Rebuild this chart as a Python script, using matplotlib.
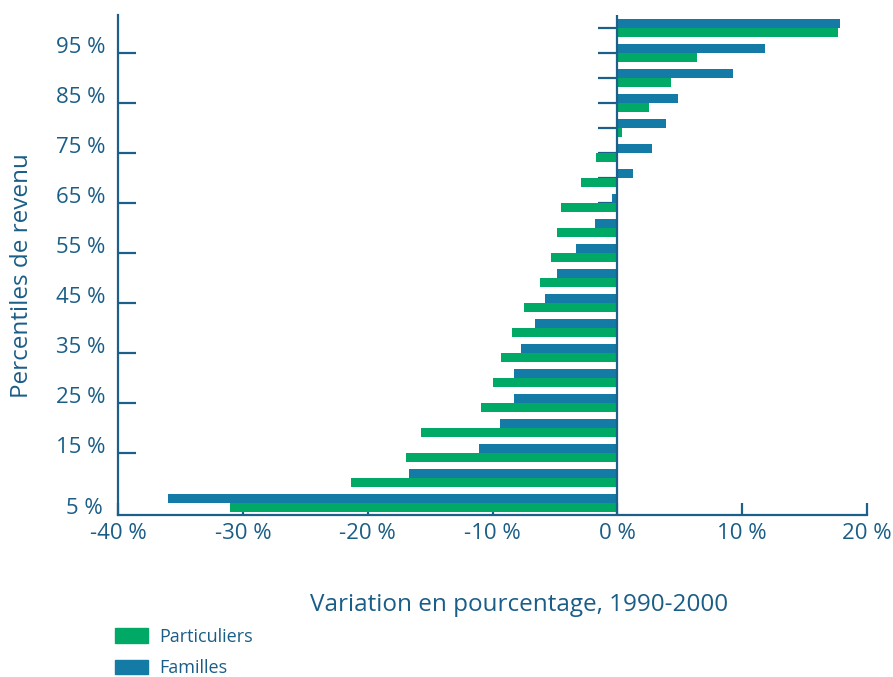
import matplotlib.pyplot as plt
from matplotlib.patches import Patch

# percentiles de revenu (5 % .. 100 %)
percentiles = [5, 10, 15, 20, 25, 30, 35, 40, 45, 50,
               55, 60, 65, 70, 75, 80, 85, 90, 95, 100]
familles = [-36.0, -16.7, -11.1, -9.4, -8.3, -8.3, -7.7, -6.6, -5.8, -4.8,
            -3.3, -1.8, -0.4, 1.25, 2.8, 3.9, 4.85, 9.25, 11.8, 17.8]
particuliers = [-31.0, -21.3, -16.9, -15.7, -10.9, -10.0, -9.3, -8.4, -7.5, -6.2,
                -5.3, -4.85, -4.5, -2.9, -1.7, 0.35, 2.55, 4.3, 6.4, 17.7]
yticks = [15, 25, 35, 45, 55, 65, 75, 85, 95]
xticks = [-40, -30, -20, -10, 0, 10, 20]

blue = '#147aa6'
green = '#00aa66'
axcol = '#1c5f88'
txt = '#1a5e88'

plt.rcParams['font.family'] = ['Open Sans', 'DejaVu Sans']

fig = plt.figure(figsize=(8.93, 6.77), dpi=100)
ax = fig.add_axes([118 / 893, 1 - 515 / 677, (867 - 118) / 893, 500 / 677])

h = 1.75
ax.barh([p + 0.9 for p in percentiles], familles, height=h, color=blue, zorder=2)
ax.barh([p - 0.9 for p in percentiles], particuliers, height=h, color=green, zorder=2)

# ligne du zero avec petits traits a gauche
ax.axvline(0, color=axcol, lw=1.6, zorder=3)
ax.hlines(percentiles, -1.55, 0, color=axcol, lw=1.6, zorder=1)

ax.set_xlim(-40, 20)
ax.set_ylim(2.6, 102.6)

for s in ['top', 'right']:
    ax.spines[s].set_visible(False)
for s in ['left', 'bottom']:
    ax.spines[s].set_color(axcol)
    ax.spines[s].set_linewidth(1.6)

ax.set_xticks(xticks)
ax.set_xticklabels(['%d %%' % v for v in xticks])
ax.set_yticks(yticks)
ax.set_yticklabels(['%d %%' % v for v in yticks], va='baseline')
ax.set_yticks([2.8], minor=True)
ax.set_yticklabels(['5 %'], minor=True, va='baseline')

ax.tick_params(axis='y', which='major', direction='in', length=13, width=1.6,
               color=axcol, labelcolor=txt, labelsize=16, pad=9)
ax.tick_params(axis='y', which='minor', length=0, labelcolor=txt, labelsize=16, pad=11)
ax.tick_params(axis='x', direction='in', length=9, width=1.6,
               color=axcol, labelcolor=txt, labelsize=16, pad=6)

fig.text(22 / 893, 1 - 276 / 677, 'Percentiles de revenu', rotation=90,
         ha='center', va='center', fontsize=17.5, color=txt)
fig.text(519 / 893, 1 - 605 / 677, 'Variation en pourcentage, 1990-2000',
         ha='center', va='center', fontsize=17.5, color=txt)

handles = [Patch(color=green, label='Particuliers'),
           Patch(color=blue, label='Familles')]
leg = fig.legend(handles=handles, loc='upper left', bbox_to_anchor=(111 / 893, 1 - 624 / 677),
                 frameon=False, fontsize=13, handlelength=1.85, handleheight=0.85,
                 handletextpad=0.6, labelspacing=0.75, borderaxespad=0, borderpad=0.2)
for t in leg.get_texts():
    t.set_color(txt)

fig.savefig('out.png', dpi=100)
